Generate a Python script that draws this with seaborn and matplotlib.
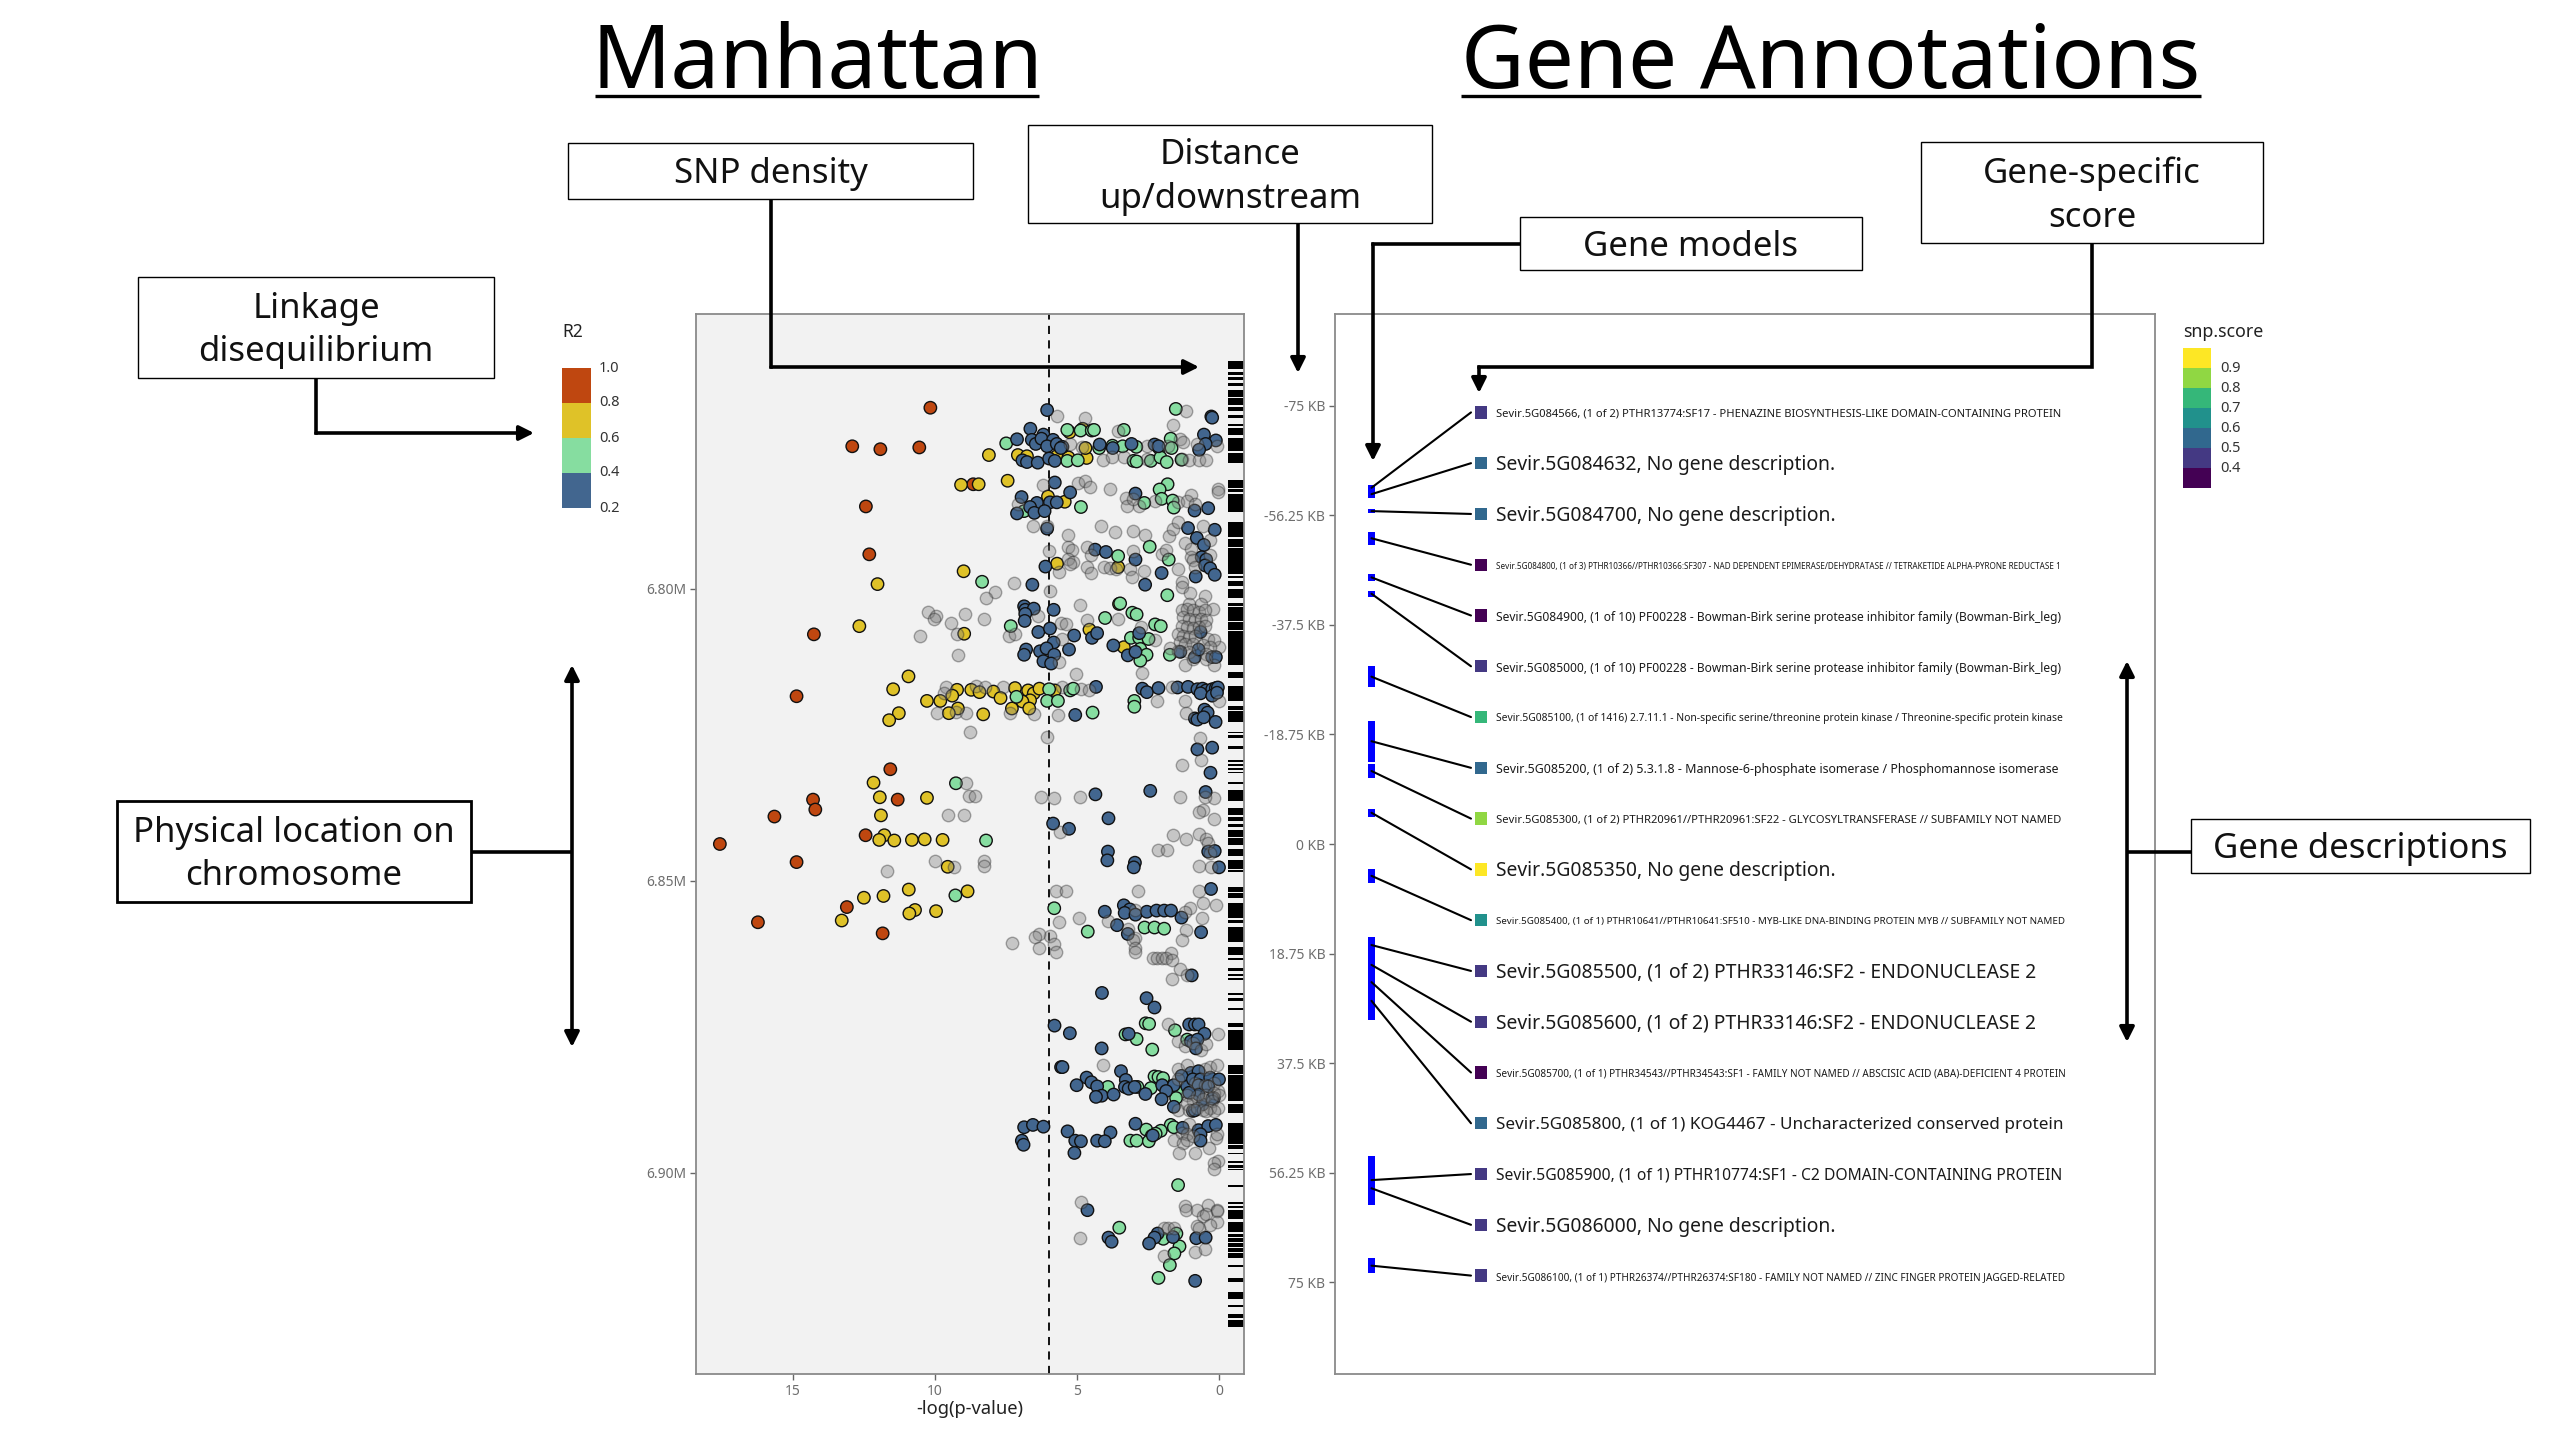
import numpy as np
import pandas as pd
import matplotlib
matplotlib.use("Agg")
import matplotlib.pyplot as plt
from matplotlib.colors import ListedColormap
from matplotlib.patches import Rectangle
import seaborn as sns

# --- Manhattan data: -log(p-value) and position (kb) per R2 class ---
red_logp = [10.16, 12.91, 11.92, 10.55, 8.65, 12.43, 12.31, 14.26, 14.87, 11.57, 14.29, 14.21, 11.31, 15.65, 12.44, 17.57, 14.87, 13.1, 16.23, 11.84]
red_pos = [6769.0, 6775.6, 6776.1, 6775.8, 6782.1, 6785.9, 6794.1, 6807.8, 6818.4, 6830.9, 6836.1, 6837.8, 6836.1, 6839.0, 6842.2, 6843.7, 6846.8, 6854.5, 6857.1, 6859.0]

yellow_logp = [8.1, 7.08, 6.76, 5.71, 5.3, 4.66, 4.7, 4.8, 5.26, 9.08, 8.46, 7.44, 6.02, 5.43, 5.7, 8.99, 12.02, 12.66, 8.97, 3.52, 4.56, 3.35, 3.55,
               10.93, 11.47, 9.22, 8.72, 8.43, 9.39, 7.94, 7.69, 7.18, 6.72, 6.52, 6.32, 5.78,
               10.28, 9.81, 6.65, 6.92, 7.29, 6.68, 9.19, 9.51, 8.3, 11.27, 11.61, 12.16, 11.94, 10.28, 11.9, 11.78, 11.96, 11.43, 10.81, 10.36, 9.73, 9.55,
               10.92, 12.5, 11.81, 8.85, 10.7, 10.9, 9.96, 13.28]
yellow_pos = [6777.1, 6777.1, 6777.3, 6777.3, 6777.5, 6777.6, 6775.9, 6772.6, 6773.2, 6782.2, 6782.1, 6781.5, 6784.2, 6785.1, 6795.7, 6797.0, 6799.2, 6806.4, 6807.7, 6802.6, 6807.0, 6810.0, 6796.3,
              6815.0, 6817.2, 6817.3, 6817.3, 6817.7, 6818.3, 6817.6, 6818.7, 6817.0, 6817.4, 6817.9, 6817.1, 6817.4,
              6819.2, 6819.2, 6819.1, 6819.3, 6820.5, 6820.5, 6820.5, 6821.3, 6821.5, 6821.3, 6822.5, 6833.2, 6835.7, 6835.8, 6838.8, 6842.2, 6843.0, 6843.1, 6843.0, 6842.9, 6843.0, 6847.6,
              6851.5, 6852.9, 6852.6, 6851.8, 6855.0, 6855.6, 6855.2, 6856.8]

green_logp = [1.52, 7.49, 5.34, 4.87, 4.48, 4.4, 3.35, 4.22, 3.75, 3.39, 2.91, 2.11, 1.7, 1.67, 5.34, 4.97, 3.01, 2.9, 2.4, 2.06, 1.84, 1.32, 1.81, 2.09, 2.02, 2.63, 1.63, 1.59, 4.86, 6.86,
              2.44, 1.77, 3.55, 8.34, 1.82, 3.48, 3.05, 2.9, 4.01, 2.25, 2.05, 7.33, 3.1, 2.81, 2.48, 2.77, 2.55, 2.77, 1.73,
              5.98, 5.24, 5.13, 6.05, 5.67, 7.13, 2.98, 2.98, 4.45, 9.26, 8.2, 9.28, 5.8, 4.62, 2.62, 2.27, 1.93,
              2.58, 2.46, 1.55, 3.29, 2.9, 2.35, 1.12, 2.27, 2.13, 1.97, 3.91, 2.87, 2.4, 1.39, 1.51, 1.7, 1.59, 2.56, 2.05, 2.23, 2.37, 3.12, 2.9, 2.47, 1.44, 3.51, 1.5, 1.96, 1.39, 1.57, 1.73, 2.13]
green_pos = [6769.2, 6775.1, 6772.8, 6772.9, 6772.9, 6772.8, 6772.8, 6775.9, 6775.5, 6775.6, 6775.7, 6775.9, 6774.3, 6775.9, 6778.1, 6778.0, 6778.1, 6778.2, 6778.1, 6777.5, 6778.3, 6777.9, 6782.1, 6783.0, 6784.6, 6785.3, 6784.9, 6786.1, 6786.0, 6786.7,
             6792.8, 6795.0, 6794.4, 6798.8, 6801.1, 6802.5, 6804.1, 6804.4, 6805.0, 6806.1, 6806.4, 6806.4, 6808.4, 6808.4, 6808.6, 6810.3, 6811.3, 6812.3, 6811.3,
             6817.2, 6817.4, 6817.1, 6819.2, 6819.2, 6818.5, 6819.2, 6820.2, 6821.2, 6833.3, 6843.1, 6852.5, 6854.7, 6858.7, 6858.0, 6858.0, 6858.2,
             6874.4, 6874.5, 6875.6, 6876.3, 6877.1, 6878.9, 6877.2, 6883.5, 6883.6, 6883.8, 6885.3, 6885.3, 6885.5, 6886.3, 6887.2, 6891.8, 6892.2, 6892.6, 6892.8, 6893.3, 6893.7, 6894.5, 6894.5, 6894.6, 6902.1, 6909.4, 6910.4, 6911.3, 6912.6, 6913.8, 6915.8, 6918.0]

blue_logp = [6.05, 0.27, 0.24, 6.64, 6.18, 7.11, 6.59, 6.45, 6.25, 5.84, 6.05, 5.71, 5.51, 5.57, 4.2, 3.74, 3.08, 2.27, 2.13, 0.53, 0.11, 0.47, 0.7, 6.92, 6.76, 6.38, 5.98, 5.78, 5.78, 5.24, 6.95, 6.41, 5.95, 5.71, 6.65, 7.11, 6.5, 6.14, 2.94, 0.86, 0.38,
             6.05, 1.09, 0.15, 0.78, 0.53, 4.36, 3.98, 2.94, 0.61, 0.45, 0.49, 0.31, 0.15, 0.82, 6.11, 2.02, 6.57, 2.6, 6.86, 6.82, 6.52, 6.82, 5.82, 6.84, 6.36, 5.95, 5.1, 4.47, 4.29, 2.81, 0.65, 5.82, 6.79, 6.86, 6.3, 6.07, 5.8, 5.28, 6.18, 5.91, 3.72, 3.21, 2.94, 1.36, 0.85, 0.72, 0.24, 0.11,
             4.33, 2.7, 2.54, 2.13, 1.46, 1.09, 0.76, 0.58, 0.45, 0.24, 0.11, 0.04, 0.65, 0.24, 0.07, 5.06, 0.51, 0.4, 0.85, 0.76, 0.54, 0.12, 0.76, 0.24, 0.3, 2.42, 0.47, 4.35, 3.89, 5.84, 5.28, 3.91, 3.93, 2.96, 3.0, 0.38, 0.15, 0.0, 0.28, 3.35, 3.14, 4.02, 3.32, 2.94, 2.54, 2.2, 1.93, 1.69, 1.32, 3.59, 3.21, 0.63, 0.96,
             4.12, 2.55, 2.27, 5.79, 5.25, 4.13, 3.18, 1.05, 0.85, 0.72, 0.51, 0.99, 0.76, 0.81, 5.56, 5.51, 3.45, 4.66, 4.49, 4.29, 5.01, 3.28, 3.31, 3.18, 2.97, 4.13, 4.33, 3.71, 2.59, 2.0, 1.59, 1.12, 0.99, 0.72, 1.32, 0.92, 0.65, 0.31, 0.0, 1.86, 2.02, 1.59, 0.92, 0.72, 0.38, 0.18, 0.58, 0.85, 0.72, 1.05, 0.24,
             6.86, 6.55, 6.18, 5.33, 2.94, 3.82, 5.06, 4.86, 4.29, 4.02, 6.94, 6.88, 5.09, 2.33, 1.28, 0.72, 0.38, 0.11, 0.65, 0.65, 4.63, 3.89, 3.78, 2.16, 2.27, 2.46, 1.62, 0.8, 0.47, 0.84]
blue_pos = [6769.4, 6770.5, 6770.7, 6772.6, 6773.6, 6774.4, 6774.5, 6775.2, 6774.3, 6774.5, 6775.6, 6775.2, 6775.7, 6775.9, 6775.3, 6775.9, 6775.2, 6775.3, 6775.6, 6773.6, 6774.6, 6775.2, 6776.2, 6778.0, 6778.3, 6778.4, 6777.7, 6778.1, 6781.8, 6783.5, 6784.3, 6785.3, 6785.2, 6785.2, 6786.0, 6787.1, 6787.0, 6786.7, 6783.7, 6786.6, 6786.2,
            6789.7, 6789.6, 6789.9, 6791.3, 6792.5, 6793.3, 6793.7, 6795.0, 6794.6, 6795.0, 6796.0, 6796.5, 6797.6, 6797.9, 6796.2, 6797.3, 6799.3, 6799.3, 6803.0, 6803.6, 6803.4, 6804.3, 6803.6, 6805.5, 6807.4, 6806.8, 6808.0, 6808.4, 6807.6, 6807.6, 6807.4, 6809.2, 6810.4, 6811.3, 6810.7, 6810.2, 6811.3, 6810.4, 6812.4, 6812.8, 6809.7, 6811.4, 6810.8, 6810.8, 6811.7, 6810.4, 6811.7, 6811.7,
            6816.8, 6817.1, 6817.7, 6817.0, 6816.9, 6816.8, 6817.2, 6817.1, 6817.4, 6817.2, 6817.0, 6816.9, 6817.9, 6818.3, 6817.8, 6821.6, 6820.7, 6821.2, 6822.2, 6822.4, 6822.0, 6822.8, 6827.5, 6827.2, 6831.5, 6834.6, 6834.8, 6835.2, 6839.3, 6840.2, 6841.1, 6845.0, 6846.5, 6846.9, 6847.7, 6845.0, 6844.9, 6847.7, 6851.4, 6854.2, 6854.9, 6855.3, 6855.5, 6855.8, 6855.3, 6855.1, 6855.1, 6855.1, 6856.3, 6857.6, 6859.1, 6858.8, 6866.2,
            6869.2, 6870.1, 6871.7, 6874.8, 6876.1, 6878.7, 6876.2, 6874.6, 6874.6, 6874.6, 6876.2, 6877.5, 6877.2, 6878.7, 6881.9, 6881.9, 6882.6, 6883.7, 6884.5, 6885.2, 6885.0, 6884.1, 6885.3, 6885.6, 6885.3, 6886.8, 6887.0, 6886.6, 6886.5, 6885.0, 6885.0, 6885.2, 6882.9, 6882.6, 6883.4, 6884.0, 6884.0, 6883.7, 6884.0, 6886.0, 6887.4, 6888.7, 6889.4, 6885.0, 6885.2, 6887.2, 6888.3, 6889.3, 6886.6, 6886.3, 6887.3,
            6892.2, 6891.8, 6892.1, 6892.9, 6891.6, 6893.1, 6894.5, 6894.6, 6894.5, 6894.6, 6894.5, 6895.2, 6896.6, 6893.6, 6892.3, 6892.7, 6892.0, 6891.8, 6893.4, 6894.5, 6906.4, 6911.1, 6911.8, 6910.4, 6911.1, 6912.1, 6911.0, 6911.2, 6911.1, 6918.5]

grey_logp = [5.71, 4.71, 1.15, 1.63, 3.55, 5.24, 4.83, 2.54, 1.39, 1.26, 1.79, 0.78, 0.08, 4.09, 3.75, 3.35, 2.54, 1.32, 1.05, 0.72, 0.45, 6.18, 4.97, 4.72, 4.53, 3.83, 3.28, 3.24, 2.81, 3.01, 2.27, 0.99, 1.46, 1.12, 0.85, 0.04, 0.04, 7.06,
             6.55, 6.05, 4.14, 3.66, 3.01, 2.6, 1.77, 1.62, 1.46, 0.58, 5.33, 0.31, 1.19, 0.99, 5.33, 5.17, 4.66, 4.49, 5.3, 5.13, 5.98, 3.01, 2.02, 1.86, 0.99, 0.31, 4.63, 4.49, 4.06, 3.82, 3.62, 3.14, 3.08, 2.65, 1.46, 5.63, 5.26, 0.92, 0.85,
             7.87, 8.19, 7.23, 5.96, 4.9, 1.32, 1.32, 1.03, 0.49, 1.05, 0.65, 0.2, 10.26, 9.96, 10.03, 9.45, 8.93, 8.27, 9.22, 10.54, 9.18, 7.4, 7.19, 6.38, 5.57, 5.37, 4.66, 3.55, 2.74, 5.51, 2.27, 5.02, 2.71, 5.64, 1.21, 0.16, 0.0, 1.73,
             1.32, 1.12, 0.92, 0.72, 0.51, 1.26, 1.05, 0.85, 0.65, 0.45, 1.32, 1.12, 0.92, 0.72, 0.51, 1.46, 1.26, 1.05, 0.85, 0.38, 0.18, 1.39, 1.19, 0.92, 0.58, 0.31, 1.46, 1.05, 0.45, 0.92, 0.45,
             9.6, 8.54, 8.25, 7.6, 9.69, 5.51, 4.86, 4.56, 1.66, 2.2, 1.21, 0.0, 9.93, 9.26, 8.92, 7.37, 6.52, 5.65, 1.15, 8.76, 6.05, 0.67, 0.65, 1.31, 8.91, 8.79, 8.58, 6.28, 5.8, 4.9, 1.36, 0.18, 0.51, 0.55, 0.69, 9.55, 8.99, 0.18, 5.6, 1.62, 1.15, 0.69, 0.45, 0.38, 2.16, 1.82, 0.31, 10.0, 8.27, 8.27, 9.33, 11.7, 0.69, 0.28,
             5.75, 5.4, 2.85, 0.69, 0.57, 0.11, 1.01, 1.19, 2.94, 0.61, 4.93, 5.64, 3.89, 3.21, 1.15, 2.94, 3.04, 5.95, 6.32, 6.48, 7.29, 5.8, 6.32, 5.75, 1.31, 2.94, 2.97, 1.69, 2.33, 2.17, 2.02, 1.86, 1.66, 1.38, 1.12, 1.65,
             1.78, 0.04, 1.46, 1.19, 0.92, 0.65, 0.45, 4.09, 1.46, 1.12, 0.51, 0.31, 0.07, 1.46, 0.85, 0.51, 0.18, 0.04, 1.12, 0.78, 0.45, 0.18, 0.92, 0.58, 0.24, 0.0, 1.46, 1.12, 1.05, 0.78, 0.58, 0.31, 0.04, 0.18, 0.45,
             1.05, 1.59, 1.32, 1.12, 1.26, 1.12, 0.92, 0.11, 0.07, 1.4, 0.86, 0.34, 0.04, 0.18, 0.18, 4.87, 1.19, 1.15, 0.78, 0.38, 0.07, 0.07, 0.58, 0.45, 0.08, 0.31, 0.78, 0.72, 1.93, 1.79, 1.59, 4.9, 0.85, 0.49, 1.93]
grey_pos = [6770.4, 6770.7, 6769.5, 6771.9, 6773.0, 6775.2, 6775.7, 6775.5, 6774.3, 6774.9, 6775.5, 6775.2, 6775.5, 6778.0, 6777.5, 6777.5, 6777.7, 6777.7, 6778.0, 6778.0, 6778.0, 6782.3, 6781.9, 6781.5, 6782.6, 6783.0, 6784.5, 6785.9, 6785.8, 6784.6, 6784.9, 6784.0, 6785.2, 6784.9, 6785.4, 6782.9, 6783.4, 6785.4,
            6789.3, 6789.2, 6789.2, 6790.3, 6790.1, 6790.8, 6791.0, 6789.7, 6788.6, 6789.2, 6790.8, 6791.7, 6792.2, 6793.2, 6792.8, 6793.3, 6792.8, 6794.3, 6794.9, 6795.4, 6793.6, 6793.6, 6794.0, 6793.4, 6794.6, 6794.3, 6796.2, 6797.3, 6796.3, 6796.4, 6796.6, 6796.6, 6798.0, 6796.9, 6796.6, 6797.1, 6795.7, 6795.1, 6796.3,
            6800.5, 6801.5, 6799.0, 6800.3, 6802.7, 6798.9, 6799.7, 6800.7, 6801.3, 6802.6, 6802.6, 6803.4, 6803.9, 6804.6, 6805.1, 6805.9, 6804.3, 6805.1, 6807.7, 6808.1, 6811.3, 6808.0, 6807.7, 6804.6, 6805.9, 6806.0, 6805.4, 6805.1, 6806.6, 6808.6, 6808.8, 6814.6, 6814.4, 6812.6, 6813.1, 6813.1, 6810.0, 6810.1,
            6803.7, 6803.4, 6803.7, 6804.0, 6803.7, 6804.9, 6805.1, 6805.4, 6805.1, 6805.4, 6806.3, 6806.6, 6806.8, 6806.6, 6806.3, 6807.7, 6808.0, 6808.3, 6808.0, 6808.6, 6808.8, 6809.1, 6809.4, 6809.4, 6809.7, 6810.0, 6810.6, 6810.8, 6811.1, 6812.0, 6812.0,
            6816.8, 6816.7, 6816.8, 6816.8, 6817.9, 6816.9, 6817.2, 6817.4, 6816.8, 6819.2, 6819.2, 6819.3, 6821.2, 6821.1, 6821.3, 6821.3, 6821.5, 6821.6, 6821.3, 6824.6, 6825.3, 6825.5, 6829.4, 6830.1, 6833.3, 6835.4, 6835.5, 6835.6, 6835.8, 6835.7, 6835.7, 6835.8, 6835.7, 6837.9, 6838.2, 6838.8, 6838.8, 6839.4, 6841.7, 6842.1, 6842.9, 6842.0, 6842.9, 6843.6, 6844.7, 6844.7, 6845.2, 6846.6, 6846.6, 6847.5, 6847.6, 6848.3, 6847.5, 6847.6,
            6851.8, 6851.8, 6851.7, 6851.8, 6853.8, 6854.2, 6854.6, 6855.3, 6855.0, 6856.3, 6856.3, 6857.0, 6856.9, 6858.2, 6858.4, 6859.8, 6860.2, 6859.4, 6859.1, 6859.7, 6860.6, 6860.8, 6861.5, 6862.2, 6860.2, 6861.5, 6862.2, 6862.4, 6863.3, 6863.3, 6863.3, 6863.3, 6863.5, 6865.1, 6866.2, 6866.8,
            6874.5, 6876.3, 6877.5, 6878.3, 6877.7, 6878.9, 6878.0, 6881.6, 6882.3, 6881.5, 6882.3, 6881.9, 6881.6, 6884.0, 6884.6, 6884.9, 6884.6, 6886.0, 6886.6, 6886.9, 6886.6, 6886.3, 6887.7, 6887.4, 6887.7, 6886.6, 6889.2, 6888.3, 6889.2, 6888.9, 6889.2, 6888.9, 6888.9, 6889.4, 6889.4,
            6891.7, 6894.3, 6893.2, 6893.4, 6894.9, 6894.3, 6893.7, 6894.0, 6893.3, 6896.6, 6896.6, 6895.7, 6897.9, 6898.4, 6899.3, 6905.0, 6905.7, 6906.3, 6906.4, 6905.5, 6906.3, 6906.6, 6907.4, 6907.1, 6908.4, 6909.0, 6909.1, 6909.4, 6909.4, 6909.5, 6909.4, 6911.2, 6913.5, 6913.0, 6914.3]

# --- SNP density rug (kb intervals) ---
rug_start = [6761.0, 6762.8, 6763.7, 6764.8, 6766.0, 6767.3, 6768.8, 6770.2, 6771.7, 6772.5, 6774.2, 6776.8, 6781.4, 6783.0, 6783.7, 6788.5, 6791.5, 6793.1, 6797.8, 6798.7, 6800.1, 6802.4, 6803.1, 6805.7, 6807.2, 6814.2, 6816.6,
             6820.1, 6821.0, 6824.5, 6825.0, 6827.0, 6829.3, 6830.0, 6830.75, 6831.3, 6833.0, 6834.45, 6837.6, 6839.0, 6840.2, 6841.3, 6842.75, 6844.6, 6846.4, 6848.15, 6851.1, 6852.15, 6853.85, 6856.7, 6857.85, 6861.3, 6863.15, 6865.0, 6865.95, 6866.7, 6869.15, 6870.1, 6871.7, 6874.4,
             6875.55, 6881.55, 6883.25, 6888.3, 6891.55, 6895.25, 6896.55, 6897.9, 6898.65, 6899.4, 6902.1, 6904.95, 6905.7, 6906.35, 6908.35, 6910.4, 6911.2, 6912.1, 6912.95, 6913.8, 6915.8, 6917.95, 6920.45, 6922.65, 6924.25, 6925.2]
rug_end = [6762.4, 6763.4, 6764.3, 6765.3, 6767.1, 6768.5, 6769.6, 6770.8, 6772.1, 6773.7, 6776.4, 6778.4, 6782.7, 6783.4, 6786.8, 6791.1, 6792.8, 6797.4, 6798.1, 6799.6, 6801.6, 6802.9, 6805.5, 6807.1, 6813.05, 6815.2, 6819.3,
           6820.8, 6822.75, 6824.75, 6825.6, 6827.5, 6829.6, 6830.35, 6831.0, 6831.6, 6833.5, 6836.3, 6838.7, 6839.7, 6840.75, 6842.45, 6843.9, 6845.7, 6847.9, 6848.5, 6851.85, 6853.0, 6856.4, 6857.3, 6860.4, 6862.7, 6863.55, 6865.4, 6866.3, 6867.0, 6869.5, 6870.5, 6872.1, 6875.1,
           6878.95, 6883.0, 6887.7, 6889.8, 6895.0, 6896.0, 6896.85, 6898.4, 6899.25, 6899.6, 6902.4, 6905.35, 6906.1, 6907.9, 6910.1, 6910.95, 6911.8, 6912.65, 6913.5, 6914.65, 6916.1, 6918.75, 6921.65, 6923.05, 6924.9, 6926.35]

# --- Gene annotation data ---
gene_labels = [
    "Sevir.5G084566, (1 of 2) PTHR13774:SF17 - PHENAZINE BIOSYNTHESIS-LIKE DOMAIN-CONTAINING PROTEIN",
    "Sevir.5G084632, No gene description.",
    "Sevir.5G084700, No gene description.",
    "Sevir.5G084800, (1 of 3) PTHR10366//PTHR10366:SF307 - NAD DEPENDENT EPIMERASE/DEHYDRATASE // TETRAKETIDE ALPHA-PYRONE REDUCTASE 1",
    "Sevir.5G084900, (1 of 10) PF00228 - Bowman-Birk serine protease inhibitor family (Bowman-Birk_leg)",
    "Sevir.5G085000, (1 of 10) PF00228 - Bowman-Birk serine protease inhibitor family (Bowman-Birk_leg)",
    "Sevir.5G085100, (1 of 1416) 2.7.11.1 - Non-specific serine/threonine protein kinase / Threonine-specific protein kinase",
    "Sevir.5G085200, (1 of 2) 5.3.1.8 - Mannose-6-phosphate isomerase / Phosphomannose isomerase",
    "Sevir.5G085300, (1 of 2) PTHR20961//PTHR20961:SF22 - GLYCOSYLTRANSFERASE // SUBFAMILY NOT NAMED",
    "Sevir.5G085350, No gene description.",
    "Sevir.5G085400, (1 of 1) PTHR10641//PTHR10641:SF510 - MYB-LIKE DNA-BINDING PROTEIN MYB // SUBFAMILY NOT NAMED",
    "Sevir.5G085500, (1 of 2) PTHR33146:SF2 - ENDONUCLEASE 2",
    "Sevir.5G085600, (1 of 2) PTHR33146:SF2 - ENDONUCLEASE 2",
    "Sevir.5G085700, (1 of 1) PTHR34543//PTHR34543:SF1 - FAMILY NOT NAMED // ABSCISIC ACID (ABA)-DEFICIENT 4 PROTEIN",
    "Sevir.5G085800, (1 of 1) KOG4467 - Uncharacterized conserved protein",
    "Sevir.5G085900, (1 of 1) PTHR10774:SF1 - C2 DOMAIN-CONTAINING PROTEIN",
    "Sevir.5G086000, No gene description.",
    "Sevir.5G086100, (1 of 1) PTHR26374//PTHR26374:SF180 - FAMILY NOT NAMED // ZINC FINGER PROTEIN JAGGED-RELATED",
]
gene_start = [-61.4, -60.6, -57.3, -53.5, -46.2, -43.4, -30.5, -21.1, -13.7, -6.0, 4.3, 16.0, 18.6, 22.8, 23.6, 53.4, 56.1, 70.9]
gene_end = [-60.6, -59.2, -56.7, -51.2, -45.1, -42.3, -26.8, -14.1, -11.3, -4.7, 6.6, 18.6, 22.8, 24.5, 30.1, 61.7, 61.8, 73.5]
gene_score = [0.45, 0.55, 0.55, 0.35, 0.35, 0.45, 0.75, 0.55, 0.85, 0.95, 0.65, 0.45, 0.45, 0.35, 0.55, 0.45, 0.45, 0.45]
gene_label_pos = np.linspace(-73.9, 73.9, 18)

dist_ticks = [-75, -56.25, -37.5, -18.75, 0, 18.75, 37.5, 56.25, 75]
dist_labels = ["-75 KB", "-56.25 KB", "-37.5 KB", "-18.75 KB", "0 KB", "18.75 KB", "37.5 KB", "56.25 KB", "75 KB"]
pos_ticks = [6800, 6850, 6900]
pos_labels = ["6.80M", "6.85M", "6.90M"]
logp_ticks = [15, 10, 5, 0]

r2_colors = ["#bf4710", "#dfc228", "#86dda0", "#42668f"]
r2_ticks = ["1.0", "0.8", "0.6", "0.4", "0.2"]
score_ticks = ["0.9", "0.8", "0.7", "0.6", "0.5", "0.4"]
score_colors = [matplotlib.colors.to_hex(c) for c in plt.get_cmap("viridis", 7)(range(7))]

# --- Theme ---
sns.set_theme(style="white")
plt.rcParams["font.family"] = ["Noto Sans", "DejaVu Sans"]

W, H = 2554, 1440
TICK_GREY = "#6e6e6e"
BORDER_GREY = "#8a8a8a"
CENTER_KB = 6843.7
HALF_KB = 90.75


def px_rect(left, top, right, bottom):
    return [left / W, 1 - bottom / H, (right - left) / W, (bottom - top) / H]


fig = plt.figure(figsize=(W / 100, H / 100), dpi=100, facecolor="white")

# --- Manhattan panel ---
ax_m = fig.add_axes(px_rect(696, 314, 1244, 1374), facecolor="#f2f2f2")
colored = pd.DataFrame({
    "logp": red_logp + yellow_logp + green_logp + blue_logp,
    "pos": red_pos + yellow_pos + green_pos + blue_pos,
    "ld": ["red"] * len(red_logp) + ["yellow"] * len(yellow_logp) + ["green"] * len(green_logp) + ["blue"] * len(blue_logp),
})
greys = pd.DataFrame({"logp": grey_logp, "pos": grey_pos})

sns.scatterplot(data=colored, x="logp", y="pos", hue="ld", legend=False, ax=ax_m, s=80,
                palette={"red": r2_colors[0], "yellow": r2_colors[1], "green": r2_colors[2], "blue": r2_colors[3]},
                edgecolor="#111111", linewidth=1.0, zorder=3)
sns.scatterplot(data=greys, x="logp", y="pos", ax=ax_m, s=80, color="#7d7d7d", alpha=0.37,
                edgecolor="#222222", linewidth=1.0, zorder=4)
ax_m.axvline(6, color="black", lw=1.3, ls=(0, (4.5, 3.5)), zorder=2)
for y0, y1 in zip(rug_start, rug_end):
    ax_m.fill_betweenx([y0, y1], -0.32, -0.88, color="black", lw=0, zorder=2)

ax_m.set_xlim(18.41, -0.88)
ax_m.set_ylim(CENTER_KB + HALF_KB, CENTER_KB - HALF_KB)
ax_m.set_xticks(logp_ticks)
ax_m.set_yticks(pos_ticks)
ax_m.set_yticklabels(pos_labels)
ax_m.set_ylabel("")
ax_m.set_xlabel("-log(p-value)", fontsize=13.2, color="#222222", labelpad=1)
ax_m.tick_params(axis="both", length=4, width=1, color="#666666", labelcolor=TICK_GREY, labelsize=10, pad=3, left=True, bottom=True)
for spine in ax_m.spines.values():
    spine.set_color(BORDER_GREY)
    spine.set_linewidth(1.3)

# --- Gene panel ---
ax_g = fig.add_axes(px_rect(1335, 314, 2155, 1374), facecolor="white")
ax_g.set_xlim(1335, 2155)
ax_g.set_ylim(HALF_KB, -HALF_KB)
BAR_LEFT, BAR_RIGHT = 1368, 1375
BAR_MID = 1371.5
LINK_END = 1471
SQUARE_X = 1481
TEXT_X = 1496
TEXT_MAX_W = 565
TEXT_SIZE = 13.9

for y0, y1, lab_y in zip(gene_start, gene_end, gene_label_pos):
    ax_g.fill_betweenx([y0, y1], BAR_LEFT, BAR_RIGHT, color="#0000ff", lw=0, zorder=2)
    ax_g.plot([BAR_MID, LINK_END], [(y0 + y1) / 2, lab_y], color="black", lw=1.5, zorder=3)

genes = pd.DataFrame({"x": SQUARE_X, "y": gene_label_pos,
                      "bin": np.clip(np.floor((np.array(gene_score) - 0.3) * 10).astype(int), 0, 6)})
sns.scatterplot(data=genes, x="x", y="y", hue="bin", palette=dict(enumerate(score_colors)), marker="s",
                s=78, linewidth=0, legend=False, ax=ax_g, zorder=3)

renderer = fig.canvas.get_renderer()
for label, lab_y in zip(gene_labels, gene_label_pos):
    t = ax_g.text(TEXT_X, lab_y + 0.3, label, fontsize=TEXT_SIZE, va="center", ha="left", color="#1a1a1a")
    width = t.get_window_extent(renderer).width
    if width > TEXT_MAX_W:
        t.set_fontsize(TEXT_SIZE * TEXT_MAX_W / width)

ax_g.set_yticks(dist_ticks)
ax_g.set_yticklabels(dist_labels)
ax_g.set_xticks([])
ax_g.set_xlabel("")
ax_g.set_ylabel("")
ax_g.tick_params(axis="y", length=4, width=1, color="#666666", labelcolor=TICK_GREY, labelsize=10, pad=3, left=True)
for spine in ax_g.spines.values():
    spine.set_color(BORDER_GREY)
    spine.set_linewidth(1.3)

# --- Colour legends ---
leg_r2 = fig.add_axes(px_rect(562, 368, 591, 508))
sns.heatmap(np.arange(4).reshape(-1, 1), cmap=ListedColormap(r2_colors), cbar=False, ax=leg_r2,
            xticklabels=False, yticklabels=False)
leg_score = fig.add_axes(px_rect(2183, 348, 2211, 488))
sns.heatmap(np.arange(7)[::-1].reshape(-1, 1), cmap=ListedColormap(score_colors), cbar=False, ax=leg_score,
            xticklabels=False, yticklabels=False)

# --- Overlay for slide annotations (pixel coordinates) ---
ov = fig.add_axes([0, 0, 1, 1], zorder=10)
ov.set_xlim(0, W)
ov.set_ylim(H, 0)
ov.axis("off")
ov.patch.set_alpha(0)

ov.text(562, 332, "R2", fontsize=12.5, va="center", color="#222222")
for i, lab in enumerate(r2_ticks):
    ov.text(599, 368 + 35 * i, lab, fontsize=10.5, va="center", color="#333333")
ov.text(2183, 332, "snp.score", fontsize=12.8, va="center", color="#222222")
for i, lab in enumerate(score_ticks):
    ov.text(2220, 369 + 20 * i, lab, fontsize=10.5, va="center", color="#333333")

# titles with underline
ov.text(817, 65, "Manhattan", fontsize=63, ha="center", va="center", color="black")
ov.plot([595, 1039], [96, 96], color="black", lw=2.4, solid_capstyle="butt")
ov.text(1831, 65, "Gene Annotations", fontsize=63, ha="center", va="center", color="black")
ov.plot([1461, 2201], [96, 96], color="black", lw=2.4, solid_capstyle="butt")


def box(left, top, right, bottom, text, lw=1.0):
    ov.add_patch(Rectangle((left, top), right - left, bottom - top, facecolor="white", edgecolor="black", lw=lw, zorder=5))
    ov.text((left + right) / 2, (top + bottom) / 2 + 3, text, fontsize=25, ha="center", va="center",
            linespacing=1.38, color="#111111", zorder=6)


def elbow(points, style="-|>"):
    xs, ys = zip(*points[:-1])
    ov.plot(xs, ys, color="black", lw=2.6, solid_capstyle="projecting", solid_joinstyle="miter", zorder=4)
    ov.annotate("", xy=points[-1], xytext=points[-2], zorder=4,
                arrowprops=dict(arrowstyle=style, color="black", lw=2.6, shrinkA=0, shrinkB=0, mutation_scale=22))


box(568, 143, 973, 199, "SNP density")
box(1028, 125, 1432, 223, "Distance\nup/downstream")
box(1520, 217, 1862, 270, "Gene models")
box(1921, 142, 2263, 243, "Gene-specific\nscore")
box(138, 277, 494, 378, "Linkage\ndisequilibrium")
box(117, 801, 471, 902, "Physical location on\nchromosome", lw=2.0)
box(2191, 819, 2530, 873, "Gene descriptions")

elbow([(771, 199), (771, 367), (1199, 367)])
elbow([(1298, 223), (1298, 373)])
elbow([(1520, 244), (1373, 244), (1373, 461)])
elbow([(2092, 243), (2092, 367), (1479, 367), (1479, 393)])
elbow([(316, 378), (316, 433), (534, 433)])
ov.plot([471, 572], [852, 852], color="black", lw=2.6, solid_capstyle="butt", zorder=4)
elbow([(572, 665), (572, 1047)], style="<|-|>")
ov.plot([2191, 2127], [852, 852], color="black", lw=2.6, solid_capstyle="butt", zorder=4)
elbow([(2127, 661), (2127, 1042)], style="<|-|>")

fig.savefig("out.png", dpi=100, facecolor="white")
